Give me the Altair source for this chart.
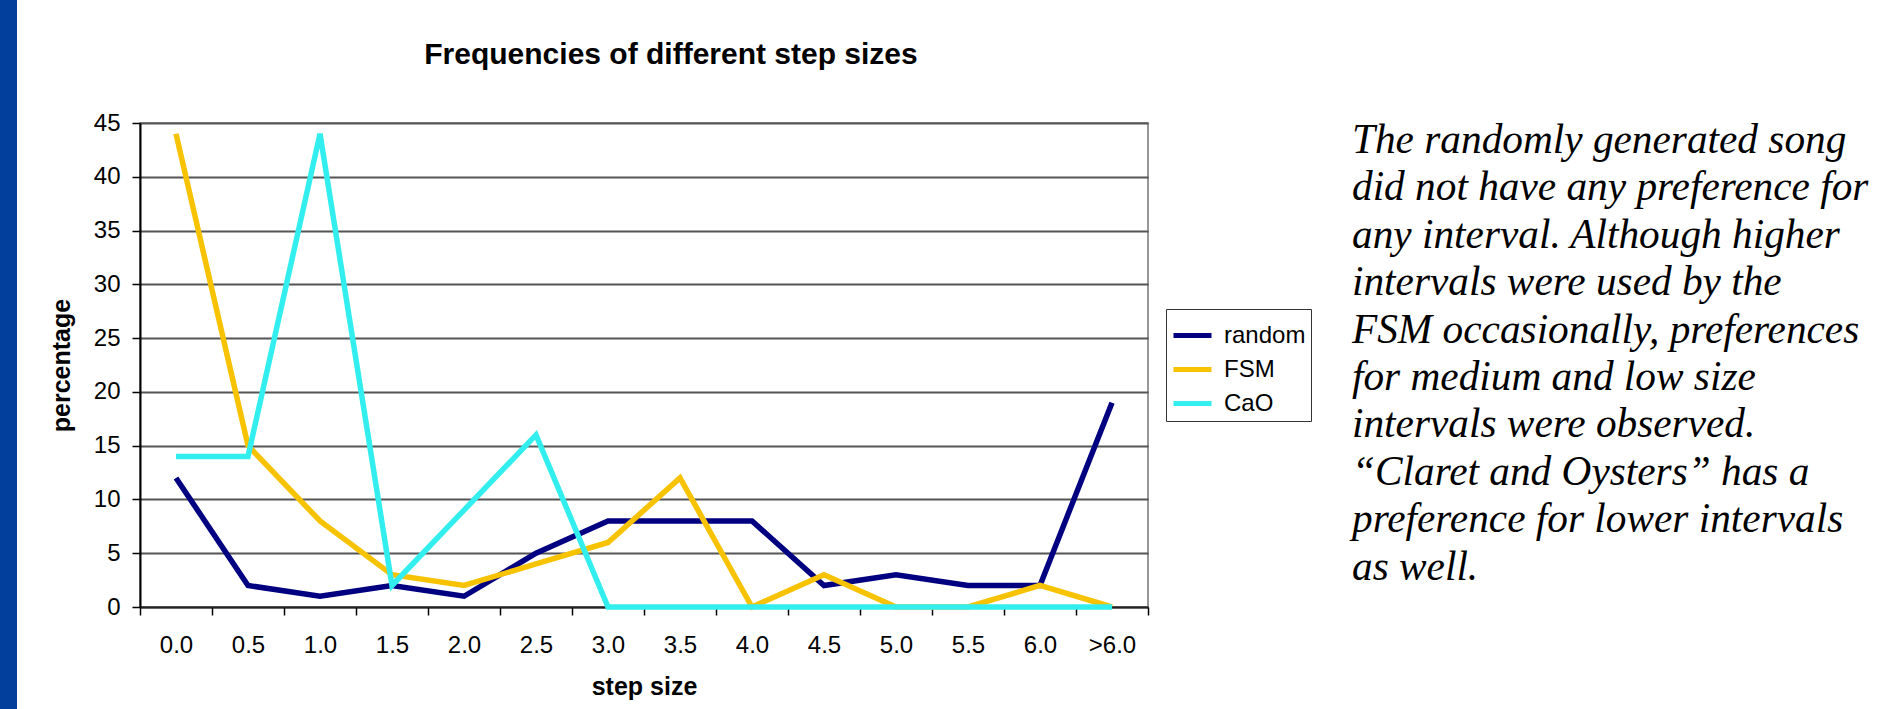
import altair as alt
import pandas as pd

categories = ["0.0", "0.5", "1.0", "1.5", "2.0", "2.5", "3.0", "3.5", "4.0", "4.5", "5.0", "5.5", "6.0", ">6.0"]
random_vals = [12, 2, 1, 2, 1, 5, 8, 8, 8, 2, 3, 2, 2, 19]
fsm_vals = [44, 15, 8, 3, 2, 4, 6, 12, 0, 3, 0, 0, 2, 0]
cao_vals = [14, 14, 44, 2, 9, 16, 0, 0, 0, 0, 0, 0, 0, 0]
series_names = ["random", "FSM", "CaO"]
series_colors = ["#000080", "#F7C300", "#33EEEE"]
y_ticks = [0, 5, 10, 15, 20, 25, 30, 35, 40, 45]
note_lines = [
    "The randomly generated song",
    "did not have any preference for",
    "any interval. Although higher",
    "intervals were used by the",
    "FSM occasionally, preferences",
    "for medium and low size",
    "intervals were observed.",
    "\u201cClaret and Oysters\u201d has a",
    "preference for lower intervals",
    "as well.",
]

rows = []
for name, vals in zip(series_names, [random_vals, fsm_vals, cao_vals]):
    for c, v in zip(categories, vals):
        rows.append({"step": c, "pct": v, "series": name})
df = pd.DataFrame(rows)

FONT = "Liberation Sans"

x_axis = alt.Axis(
    title="step size", tickBand="extent", labelAngle=0, grid=False,
    tickSize=8, tickColor="#000", tickWidth=1.5, domainColor="#222", domainWidth=2,
    labelFont=FONT, labelFontSize=24, labelColor="#000", labelPadding=18,
    titleFont=FONT, titleFontSize=25, titleFontWeight="bold", titleColor="#000",
    titleY=87, titleBaseline="alphabetic",
)
y_axis = alt.Axis(
    title="percentage", values=y_ticks, grid=True, gridColor="#555555", gridWidth=2,
    tickSize=8, tickColor="#000", tickWidth=1.5, domainColor="#000", domainWidth=2,
    labelFont=FONT, labelFontSize=24, labelColor="#000", labelPadding=12,
    titleFont=FONT, titleFontSize=25, titleFontWeight="bold", titleColor="#000",
    titleAngle=270, titleX=-71, titleY=242, titleAlign="center", titleBaseline="alphabetic",
)
legend = alt.Legend(
    orient="none", legendX=1026, legendY=186, title=None,
    symbolType="stroke", symbolSize=1444, symbolStrokeWidth=5,
    labelFont=FONT, labelFontSize=24, labelColor="#000", labelOffset=10,
    strokeColor="#333", fillColor="white", padding=5, rowPadding=0,
)

base = alt.Chart(df)
line_layers = []
for name in series_names:
    line_layers.append(
        base.transform_filter(alt.datum.series == name)
        .mark_line(strokeWidth=5.5, strokeJoin="miter")
        .encode(
            x=alt.X("step:N", sort=categories,
                    scale=alt.Scale(type="band", domain=categories, paddingInner=0, paddingOuter=0),
                    axis=x_axis),
            y=alt.Y("pct:Q", scale=alt.Scale(domain=[0, 45], nice=False), axis=y_axis),
            color=alt.Color("series:N", scale=alt.Scale(domain=series_names, range=series_colors),
                            legend=legend),
        )
    )

one = pd.DataFrame({"k": [0]})
band = alt.Chart(one).mark_rect(color="#023E9C").encode(
    x=alt.value(-140), x2=alt.value(-123), y=alt.value(-123), y2=alt.value(586)
)
note = alt.Chart(one).mark_text(
    text=note_lines, font="Liberation Serif", fontStyle="italic", fontSize=41.3,
    lineHeight=47.4, align="left", baseline="alphabetic", color="#000",
).encode(x=alt.value(1212), y=alt.value(30))

chart = alt.layer(band, *line_layers, note).properties(
    width=1008, height=484,
    title=alt.TitleParams(
        "Frequencies of different step sizes", font=FONT, fontSize=30, fontWeight="bold",
        anchor="middle", frame="group", dx=27, offset=-94, baseline="alphabetic", color="#000",
    ),
    padding={"left": 140, "top": 123, "right": 729, "bottom": 102},
    autosize=alt.AutoSizeParams(type="none"),
    background="white",
).configure_view(stroke="#777", strokeWidth=1.5)

chart.save("out.html", embed_options={"renderer": "svg", "actions": False})
